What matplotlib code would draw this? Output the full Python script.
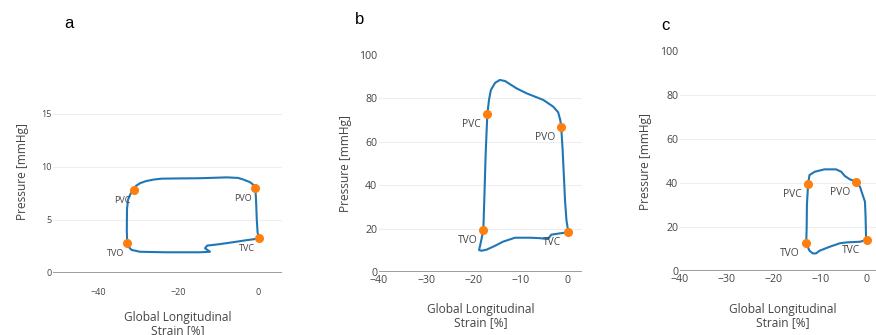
import matplotlib
matplotlib.use("Agg")
import matplotlib.pyplot as plt

# panel a: pressure-strain loop
a_x = [-32.7, -32.8, -32.75, -32.5, -31.8, -31.0, -30.5, -29.5, -28.0, -26.0, -24.0,
       -20.0, -14.5, -7.8, -5.0, -3.7, -2.0, -1.0, -0.7, -0.5, -0.3, -0.1, 0.3,
       -3.0, -6.2, -9.5, -12.7, -13.25, -12.0, -14.5, -18.0, -22.8, -26.0, -29.5,
       -31.6, -32.4, -32.7]
a_y = [2.8, 4.0, 6.0, 6.9, 7.5, 7.8, 8.2, 8.45, 8.65, 8.8, 8.88,
       8.9, 8.92, 9.0, 8.95, 8.8, 8.55, 8.25, 8.0, 7.0, 5.0, 3.8, 3.25,
       3.08, 2.9, 2.72, 2.58, 2.33, 2.0, 1.95, 1.95, 1.95, 1.97, 2.0,
       2.17, 2.48, 2.8]
a_ev_x = [-31.0, -0.7, 0.3, -32.7]
a_ev_y = [7.8, 8.0, 3.25, 2.8]

# panel b
b_x = [-17.9, -17.7, -17.4, -17.05, -16.7, -16.3, -15.4, -14.4, -13.3, -10.85,
       -8.7, -5.2, -3.1, -2.05, -1.6, -1.4, -1.1, -0.6, -0.3, 0.1,
       -1.7, -3.5, -4.2, -6.0, -8.0, -11.2, -13.7, -15.5, -17.2, -18.3,
       -18.8, -18.4, -17.9]
b_y = [19.4, 33.0, 55.0, 72.7, 79.3, 83.9, 87.2, 88.5, 88.0, 84.6,
       82.3, 79.3, 76.2, 73.6, 70.0, 66.7, 56.2, 33.2, 24.0, 18.3,
       17.8, 17.2, 15.2, 15.6, 15.8, 15.8, 14.0, 12.0, 10.3, 9.8,
       10.1, 14.0, 19.4]
b_ev_x = [-17.05, -1.4, 0.1, -17.9]
b_ev_y = [72.7, 66.7, 18.3, 19.4]

# panel c
c_x = [-13.0, -12.9, -12.85, -12.6, -12.3, -11.2, -9.1, -6.6, -5.5, -4.75,
       -3.7, -2.3, -1.5, -0.8, -0.43, -0.3, -0.2, -0.1, -1.5, -4.4,
       -5.8, -8.0, -10.15, -10.9, -11.6, -12.3, -13.0]
c_y = [12.6, 20.0, 30.0, 39.4, 43.6, 45.1, 46.2, 46.2, 45.1, 43.2,
       41.7, 40.6, 38.3, 33.8, 31.5, 24.7, 15.6, 14.1, 13.3, 13.0,
       12.6, 11.0, 9.2, 8.0, 8.0, 9.2, 12.6]
c_ev_x = [-12.6, -2.3, -0.1, -13.0]
c_ev_y = [39.4, 40.6, 14.1, 12.6]

ev_labels = ["PVC", "PVO", "TVC", "TVO"]

W, H = 876, 335
fig = plt.figure(figsize=(W / 100, H / 100), dpi=100)
grey = "#444444"
font = "Open Sans"


def px_axes(left, top, right, bottom):
    return fig.add_axes([left / W, 1 - bottom / H, (right - left) / W, (bottom - top) / H])


def draw_panel(ax, xs, ys, ev_x, ev_y, xlim, ylim, xticks, yticks,
               tick_size, ann_size, xpad, ann_off):
    ax.set_xlim(*xlim)
    ax.set_ylim(*ylim)
    for s in ax.spines.values():
        s.set_visible(False)
    for t in yticks[1:]:
        if t < ylim[1]:
            ax.axhline(t, color="#eeeeee", lw=0.8, zorder=0)
    ax.axhline(0, color="#8c8c8c", lw=1.2, zorder=1)
    ax.plot(xs, ys, color="#1f77b4", lw=1.5, zorder=2)
    ax.plot(ev_x, ev_y, "o", color="#ff7f0e", ms=5.5, zorder=3)
    for x, y, lab in zip(ev_x, ev_y, ev_labels):
        ax.annotate(lab, (x, y), xytext=ann_off, textcoords="offset pixels",
                    ha="center", va="center", fontsize=ann_size,
                    color=grey, family=font)
    ax.set_xticks(xticks)
    ax.set_yticks(yticks)
    ax.tick_params(length=0, labelsize=tick_size, labelcolor=grey)
    ax.tick_params(axis="x", pad=xpad)
    ax.tick_params(axis="y", pad=1.2)
    for lab in ax.get_xticklabels() + ax.get_yticklabels():
        lab.set_family(font)
    ax.patch.set_alpha(0)


ax_a = px_axes(53, 103, 282, 273)
draw_panel(ax_a, a_x, a_y, a_ev_x, a_ev_y, (-51.25, 6), (0, 16),
           [-40, -20, 0], [0, 5, 10, 15], 6.5, 6.5, 11, (-12, -10.5))

ax_b = px_axes(379, 55, 582, 272)
draw_panel(ax_b, b_x, b_y, b_ev_x, b_ev_y, (-40, 3), (0, 100),
           [-40, -30, -20, -10, 0], [0, 20, 40, 60, 80, 100], 7.6, 7.4, 2.5, (-16, -10.5))

ax_c = px_axes(680, 51, 881, 271)
draw_panel(ax_c, c_x, c_y, c_ev_x, c_ev_y, (-40, 3), (0, 100),
           [-40, -30, -20, -10, 0], [0, 20, 40, 60, 80, 100], 7.6, 7.4, 2.5, (-16, -10.5))

# axis titles
ylab_pos = [(23, 172), (345, 163), (645, 161)]
xlab_pos = [(178, 324), (481, 316), (783, 316)]
for (x, y) in ylab_pos:
    fig.text(x / W, 1 - y / H, "Pressure [mmHg]", rotation=90, ha="center",
             va="center", fontsize=8.6, color=grey, family=font)
for (x, y) in xlab_pos:
    fig.text(x / W, 1 - y / H, "Global Longitudinal\nStrain [%]", ha="center",
             va="center", fontsize=8.6, color=grey, family=font, linespacing=1.1)

# panel letters
for lab, (x, y) in zip(["a", "b", "c"], [(69, 23), (360, 20), (665, 26)]):
    fig.text(x / W, 1 - y / H, lab, ha="center", va="center", fontsize=12,
             color="black", family="Liberation Sans")

fig.savefig("out.png", dpi=100)
